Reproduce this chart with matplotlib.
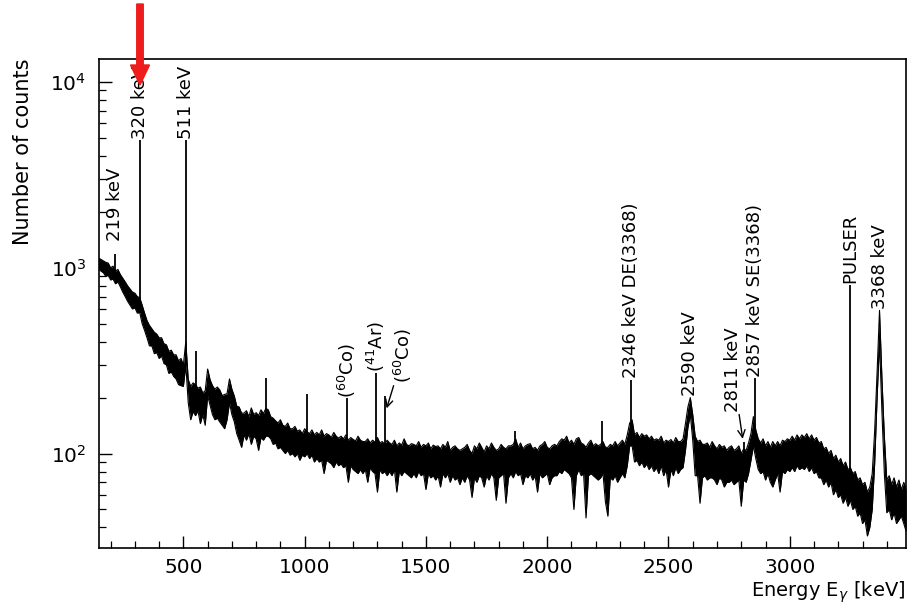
import numpy as np
import matplotlib.pyplot as plt
from matplotlib.ticker import MultipleLocator, FixedLocator, LogLocator, NullFormatter
from matplotlib.patches import FancyArrow

plt.rcParams['font.family'] = ['DejaVu Sans']

# spectrum in 10 keV bins from 150 keV:
# upper and lower edge of the noisy band of counts
e_start = 150
e_step = 10
band_hi = [
    1130, 1110, 1090, 1070, 1060, 1000, 1020, 960, 980, 920,   # 150
    880, 840, 800, 770, 740, 730, 700, 690, 630, 570,          # 250
    520, 490, 470, 450, 440, 420, 420, 390, 385, 355,          # 350
    360, 340, 340, 315, 325, 300, 400, 250, 230, 240,          # 450
    235, 225, 228, 212, 218, 285, 250, 232, 222, 228,          # 550
    220, 205, 208, 210, 252, 222, 204, 180, 178, 165,          # 650
    165, 170, 158, 176, 162, 166, 160, 172, 164, 175,          # 750
    172, 158, 155, 150, 146, 152, 142, 140, 146, 136,          # 850
    136, 140, 132, 134, 128, 136, 131, 128, 134, 126,          # 950
    130, 126, 134, 124, 128, 126, 122, 130, 124, 121,          # 1050
    124, 120, 126, 118, 122, 119, 117, 124, 118, 116,          # 1150
    116, 120, 114, 118, 115, 122, 114, 116, 112, 118,          # 1250
    114, 112, 118, 110, 114, 111, 120, 112, 110, 113,          # 1350
    112, 110, 116, 108, 112, 110, 114, 106, 111, 109,          # 1450
    110, 106, 112, 108, 116, 104, 108, 110, 106, 104,          # 1550
    106, 108, 112, 104, 100, 110, 106, 114, 108, 102,          # 1650
    110, 106, 114, 108, 104, 106, 112, 108, 106, 110,          # 1750
    110, 112, 120, 108, 114, 106, 110, 112, 113, 106,          # 1850
    108, 104, 110, 112, 116, 108, 106, 110, 112, 110,          # 1950
    116, 120, 118, 124, 114, 118, 112, 120, 122, 114,          # 2050
    112, 108, 114, 118, 110, 113, 110, 112, 116, 108,          # 2150
    108, 112, 110, 116, 110, 114, 118, 112, 126, 146,          # 2250
    152, 126, 130, 122, 128, 124, 126, 120, 124, 118,          # 2350
    120, 118, 124, 114, 118, 116, 119, 114, 122, 116,          # 2450
    116, 120, 145, 178, 200, 162, 124, 116, 118, 112,          # 2550
    112, 114, 108, 116, 110, 106, 112, 108, 110, 104,          # 2650
    108, 110, 104, 106, 110, 100, 106, 104, 114, 128,          # 2750
    158, 134, 120, 114, 120, 110, 116, 108, 116, 110,          # 2850
    116, 110, 118, 116, 120, 118, 124, 118, 126, 120,          # 2950
    126, 122, 128, 120, 126, 118, 122, 114, 116, 106,          # 3050
    108, 100, 104, 94, 98, 90, 94, 86, 90, 82,                 # 3150
    84, 78, 80, 72, 74, 68, 70, 62, 66, 78,                    # 3250
    132, 272, 590, 255, 124, 72, 76, 68, 74, 66,               # 3350
    72, 64, 70, 64,                                            # 3450
]
band_lo = [
    990, 960, 940, 900, 910, 860, 870, 820, 840, 790,          # 150
    740, 700, 660, 630, 600, 610, 570, 575, 500, 460,          # 250
    420, 380, 380, 345, 350, 325, 335, 305, 300, 270,          # 350
    275, 260, 252, 235, 232, 230, 300, 188, 152, 168,          # 450
    160, 170, 145, 162, 142, 205, 182, 162, 152, 155,          # 550
    148, 142, 136, 152, 188, 162, 148, 128, 118, 108,          # 650
    126, 118, 128, 112, 124, 120, 104, 122, 118, 124,          # 750
    124, 120, 112, 114, 106, 108, 104, 100, 104, 98,           # 850
    100, 96, 100, 92, 98, 96, 100, 94, 98, 90,                 # 950
    94, 90, 92, 78, 92, 90, 88, 84, 90, 86,                    # 1050
    88, 84, 86, 70, 86, 82, 80, 78, 82, 78,                    # 1150
    82, 70, 84, 80, 78, 62, 82, 78, 80, 76,                    # 1250
    80, 76, 82, 62, 80, 76, 80, 78, 76, 74,                    # 1350
    78, 74, 80, 76, 78, 64, 78, 74, 76, 72,                    # 1450
    76, 66, 78, 74, 78, 70, 76, 72, 74, 68,                    # 1550
    74, 70, 76, 72, 58, 74, 70, 76, 74, 66,                    # 1650
    76, 72, 78, 74, 56, 74, 76, 78, 54, 74,                    # 1750
    78, 74, 80, 76, 78, 68, 76, 74, 78, 72,                    # 1850
    76, 62, 78, 74, 76, 78, 68, 74, 76, 76,                    # 1950
    80, 78, 82, 80, 78, 74, 50, 76, 82, 76,                    # 2050
    78, 45, 76, 78, 76, 74, 72, 74, 78, 55,                    # 2150
    46, 74, 72, 76, 70, 74, 78, 74, 86, 110,                   # 2250
    110, 90, 92, 86, 90, 84, 88, 82, 86, 80,                   # 2350
    84, 78, 86, 76, 82, 66, 82, 76, 84, 78,                    # 2450
    82, 84, 104, 138, 162, 118, 76, 76, 54, 74,                # 2550
    76, 72, 74, 74, 72, 68, 74, 72, 66, 70,                    # 2650
    70, 72, 68, 70, 72, 52, 72, 70, 78, 92,                    # 2750
    110, 94, 82, 78, 80, 72, 78, 70, 66, 72,                   # 2850
    78, 62, 80, 78, 82, 80, 84, 80, 86, 82,                    # 2950
    84, 82, 86, 80, 84, 78, 80, 74, 74, 68,                    # 3050
    72, 66, 70, 60, 64, 58, 60, 54, 58, 52,                    # 3150
    56, 50, 52, 46, 48, 42, 44, 36, 40, 50,                    # 3250
    88, 198, 400, 168, 78, 48, 50, 44, 48, 42,                 # 3350
    44, 46, 42, 38,                                            # 3450
]

# narrow lines drawn as single channels: energy, foot, top
line_e = [219, 320, 511, 554, 840, 1009, 1173, 1294, 1332, 1868, 2227, 2346, 2811, 2857, 3248]
line_lo = [870, 620, 300, 190, 145, 120, 112, 104, 100, 95, 95, 130, 92, 120, 74]
line_hi = [1190, 4900, 4900, 358, 256, 210, 200, 270, 205, 133, 150, 250, 115, 256, 810]

# peak labels: text, energy, counts at the lower end of the text
label_text = ['219 keV', '320 keV', '511 keV', r'($^{60}$Co)', r'($^{41}$Ar)',
              '2346 keV DE(3368)', '2590 keV', '2857 keV SE(3368)', 'PULSER', '3368 keV']
label_e = [219, 320, 511, 1173, 1294, 2346, 2590, 2857, 3248, 3372]
label_y = [1400, 4950, 4950, 200, 275, 255, 205, 258, 830, 600]

# labels with an arrow: text, text energy, text counts, arrow tip energy, tip counts
arrow_text = [r'($^{60}$Co)', '2811 keV']
arrow_e = [1405, 2764]
arrow_y = [240, 168]
tip_e = [1338, 2806]
tip_y = [175, 120]

energy = e_start + e_step * np.arange(len(band_hi))

fig = plt.figure(figsize=(9.13, 6.10), dpi=100)
ax = fig.add_axes([0.1084, 0.1016, 0.8836, 0.8017])

ax.fill_between(energy, band_lo, band_hi, color='black', lw=0)
ax.plot(energy, band_hi, color='black', lw=0.8)
ax.plot(energy, band_lo, color='black', lw=0.8)
ax.vlines(line_e, line_lo, line_hi, color='black', lw=1.3)

for t, x, y in zip(label_text, label_e, label_y):
    ax.text(x, y, t, rotation=90, ha='center', va='bottom', fontsize=13)

for t, x, y, tx, ty in zip(arrow_text, arrow_e, arrow_y, tip_e, tip_y):
    ax.annotate(t, xy=(tx, ty), xytext=(x, y), rotation=90, ha='center', va='bottom',
                fontsize=13,
                arrowprops=dict(arrowstyle='->', color='black', lw=1.0,
                                shrinkA=0, shrinkB=0))

ax.set_yscale('log')
ax.set_xlim(152, 3478)
ax.set_ylim(31, 13300)

ax.xaxis.set_major_locator(FixedLocator([500, 1000, 1500, 2000, 2500, 3000]))
ax.xaxis.set_minor_locator(MultipleLocator(100))
ax.yaxis.set_major_locator(LogLocator(base=10))
ax.yaxis.set_minor_locator(LogLocator(base=10, subs=np.arange(2, 10)))
ax.yaxis.set_minor_formatter(NullFormatter())

ax.tick_params(which='both', direction='in', top=False, right=False, labelsize=14.5)
ax.tick_params(which='major', length=9, width=1.0)
ax.tick_params(which='minor', length=5, width=0.9)
ax.tick_params(axis='x', pad=7)
ax.tick_params(axis='y', pad=9)
for s in ax.spines.values():
    s.set_linewidth(1.2)

ax.set_ylabel('Number of counts', fontsize=15, loc='top')
ax.yaxis.set_label_coords(-0.082, 1.0)
ax.set_xlabel(r'Energy E$_\gamma$ [keV]', fontsize=14, loc='right', labelpad=2)

# red marker arrow above the 320 keV line
fig.add_artist(FancyArrow(1.40, 6.06, 0, -0.81, width=0.065, head_width=0.19,
                          head_length=0.2, length_includes_head=True,
                          color='#ee1c1c', transform=fig.dpi_scale_trans))

fig.savefig('out.png', dpi=100)
